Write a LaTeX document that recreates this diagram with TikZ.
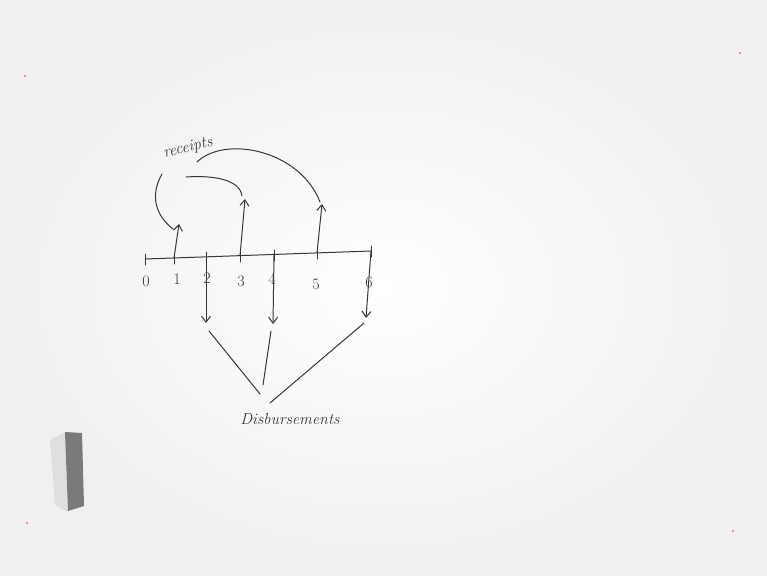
\documentclass[tikz,border=0pt]{standalone}
\usetikzlibrary{arrows.meta}
\definecolor{ink}{RGB}{55,55,58}
\definecolor{board}{RGB}{240,240,242}
\begin{document}
\begin{tikzpicture}[x=1pt,y=-1pt,
  pen/.style={draw=ink,line width=1pt,line cap=round},
  arr/.style={pen,-{Straight Barb[length=6pt,width=9pt,line width=1pt]}},
  tick/.style={pen},
  lab/.style={text=ink,font=\fontsize{16}{18}\selectfont,inner sep=1pt},
  word/.style={text=ink,font=\fontsize{16}{18}\selectfont\itshape,inner sep=1pt}]
\useasboundingbox (0,0) rectangle (767,575);
\shade[inner color=white,outer color=board] (0,0) rectangle (767,575);
% specks
\fill[red!60] (25,76) circle (1.2);
\fill[red!60] (740,53) circle (1.2);
\fill[red!60] (27,523) circle (1.2);
\fill[red!60] (733,531) circle (1.2);
% eraser
\fill[gray!25] (50,440) -- (65,432) -- (68,512) -- (55,505) -- cycle;
\fill[gray!70!black!80] (65,432) -- (82,433) -- (84,506) -- (68,511) -- cycle;
% timeline
\coordinate (t0) at (145,259);
\coordinate (t1) at (174,258);
\coordinate (t2) at (206,257);
\coordinate (t3) at (240,256);
\coordinate (t4) at (274,255);
\coordinate (t5) at (317,253);
\coordinate (t6) at (371,251);
\draw[pen] (t0) -- (t6);
\foreach \i in {0,...,6}{
  \draw[tick] ([yshift=-6]t\i) -- ([yshift=5]t\i);
}
% tick labels
\node[lab] (n0) at (146,281) {0};
\node[lab] (n1) at (177,279) {1};
\node[lab] (n2) at (207,278) {2};
\node[lab] (n3) at (241,281) {3};
\node[lab] (n4) at (272,279) {4};
\node[lab] (n5) at (316,284) {5};
\node[lab] (n6) at (369,282) {6};
% receipts
\node[word,rotate=14] (rec) at (188,148) {receipts};
\coordinate (r1s) at (162,174);
\coordinate (r3s) at (186,177);
\coordinate (r5s) at (197,162);
\coordinate (u1) at (179,224);
\coordinate (u3) at (245,199);
\coordinate (u5) at (322,204);
\draw[arr] (t1) -- (u1);
\draw[arr] (t3) -- (u3);
\draw[arr] (t5) -- (u5);
\draw[pen] (r1s) .. controls (150,195) and (155,215) .. (173,229);
\draw[pen] (r3s) .. controls (215,175) and (240,180) .. (242,196);
\draw[pen] (r5s) .. controls (225,135) and (300,150) .. (320,202);
% disbursements
\coordinate (d2) at (206,323);
\coordinate (d4) at (273,324);
\coordinate (d6) at (366,318);
\draw[arr] (t2) -- (d2);
\draw[arr] (t4) -- (d4);
\draw[arr] (t6) -- (d6);
\node[word] (dis) at (290,419) {Disbursements};
\coordinate (l2a) at (209,331);
\coordinate (l2b) at (260,394);
\coordinate (l4a) at (271,331);
\coordinate (l4b) at (263,385);
\coordinate (l6a) at (364,323);
\coordinate (l6b) at (270,403);
\draw[pen] (l2a) -- (l2b);
\draw[pen] (l4a) -- (l4b);
\draw[pen] (l6a) -- (l6b);
\end{tikzpicture}
\end{document}
